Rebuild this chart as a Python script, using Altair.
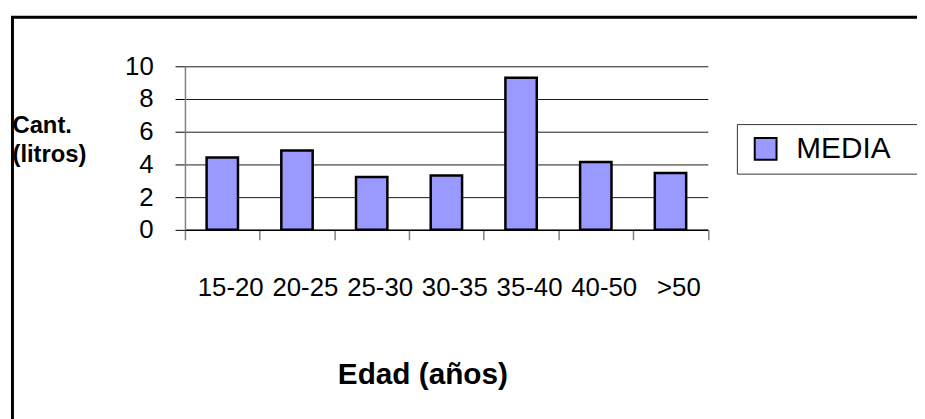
import altair as alt
import pandas as pd

# ---- data ----
categories = ["15-20", "20-25", "25-30", "30-35", "35-40", "40-50", ">50"]
media = [4.42, 4.85, 3.23, 3.33, 9.30, 4.15, 3.47]
series_name = "MEDIA"
y_ticks = [0, 2, 4, 6, 8, 10]

df = pd.DataFrame({"edad": categories, "media": media, "serie": [series_name] * len(categories)})

FONT = "Liberation Sans"
PLOT_L, PLOT_T = 186.5, 65
W, H = 527.5, 165
PAGE_W, PAGE_H = 917, 411

bars = alt.Chart(df).mark_bar(
    stroke="black", strokeWidth=2.5, width=alt.RelativeBandSize(0.42)
).encode(
    x=alt.X(
        "edad:N", sort=categories,
        scale=alt.Scale(paddingInner=0, paddingOuter=0),
        axis=alt.Axis(
            title="Edad (años)", labelAngle=0, labelFontSize=26, labelFont=FONT,
            labelColor="black", labelPadding=35, labelOffset=8, labelOverlap=False,
            tickBand="extent", tickSize=10, tickColor="#808080", tickWidth=1.5,
            domainColor="black", domainWidth=1.5, grid=False,
            titleFont=FONT, titleFontSize=30, titleFontWeight="bold", titleColor="black",
            titleX=239.5, titleY=155, titleAlign="center", titleBaseline="alphabetic",
        ),
    ),
    y=alt.Y(
        "media:Q", scale=alt.Scale(domain=[0, 10]),
        axis=alt.Axis(
            title=["Cant.", "(litros)"], values=y_ticks, grid=True, gridColor="#1a1a1a",
            gridWidth=1, domainColor="#808080", domainWidth=1.5, tickColor="black",
            tickSize=10, labelPadding=22, labelFontSize=26, labelFont=FONT,
            labelColor="black",
            titleAngle=0, titleAlign="left", titleBaseline="alphabetic",
            titleX=12 - PLOT_L, titleY=132 - PLOT_T, titleFont=FONT, titleFontSize=24,
            titleFontWeight="bold", titleColor="black", titleLineHeight=29,
        ),
    ),
    color=alt.Color(
        "serie:N",
        scale=alt.Scale(domain=[series_name], range=["#9999FF"]),
        legend=alt.Legend(
            title=None, orient="none", legendX=743.3 - PLOT_L, legendY=123.3 - PLOT_T,
            strokeColor="#333333", fillColor="white", padding=10,
            symbolType="square", symbolSize=484, symbolStrokeColor="black",
            symbolStrokeWidth=2, symbolOffset=4,
            labelFont=FONT, labelFontSize=30, labelColor="black", labelOffset=16,
            labelExpr="datum.label + '\u2800\u2800'",
        ),
    ),
)

frame = alt.Chart(alt.Data(values=[{"f": 1}])).mark_rect(
    filled=False, stroke="black", strokeWidth=3
).encode(
    x=alt.value(12.5 - PLOT_L), x2=alt.value(960 - PLOT_L),
    y=alt.value(15.5 - PLOT_T), y2=alt.value(460 - PLOT_T),
)

chart = alt.layer(frame, bars).properties(
    width=W, height=H,
    autosize=alt.AutoSizeParams(type="none"),
    padding={"left": PLOT_L - 8, "top": PLOT_T - 8,
             "right": PAGE_W - (PLOT_L - 8) - W, "bottom": PAGE_H - (PLOT_T - 8) - H},
    background="white",
).configure_view(stroke=None)

chart.save("out.html", embed_options={"renderer": "svg", "actions": False})
